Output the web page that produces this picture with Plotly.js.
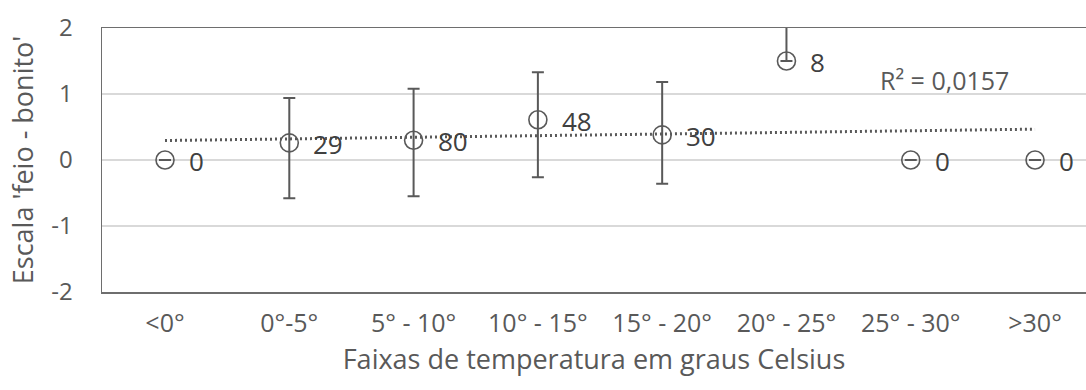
<!DOCTYPE html>
<html>
<head>
<meta charset="utf-8">
<script src="https://cdn.plot.ly/plotly-3.0.1.min.js"></script>
<style>
  html, body { margin: 0; padding: 0; background: #fff; }
  #chart { width: 1086px; height: 390px; }
</style>
</head>
<body>
<div id="chart"></div>
<script>
// ---- data ----
const categories = ['<0°', '0°-5°', '5° - 10°', '10° - 15°', '15° - 20°', '20° - 25°', '25° - 30°', '>30°'];
const means      = [0, 0.26, 0.30, 0.61, 0.38, 1.50, 0, 0];
const errPlus    = [0, 0.68, 0.78, 0.72, 0.80, 0.80, 0, 0];
const errMinus   = [0, 0.84, 0.85, 0.87, 0.74, 0.00, 0, 0];
const counts     = [0, 29, 80, 48, 30, 8, 0, 0];
const yTickVals  = [-2, -1, 0, 1, 2];
const yTickText  = ['-2', '-1', '0', '1', '2'];
const rSquaredLabel = 'R² = 0,0157';
const xTitle = 'Faixas de temperatura em graus Celsius';
const yTitle = "Escala 'feio - bonito'";

// positions along the x axis (one per category)
const xs = categories.map((_, i) => i + 1);

// linear least-squares trendline through the means
const n = xs.length;
const mx = xs.reduce((a, b) => a + b, 0) / n;
const my = means.reduce((a, b) => a + b, 0) / n;
let sxy = 0, sxx = 0;
for (let i = 0; i < n; i++) { sxy += (xs[i] - mx) * (means[i] - my); sxx += (xs[i] - mx) ** 2; }
const slope = sxy / sxx;
const intercept = my - slope * mx;
const trendX = [xs[0], xs[n - 1]];
const trendY = trendX.map(x => intercept + slope * x);

const grey = '#595959';
const dark = '#404040';
const font = 'Open Sans, sans-serif';

const traces = [
  {
    x: trendX, y: trendY, type: 'scatter', mode: 'lines',
    line: { color: grey, width: 3, dash: '2px,3px' },
    hoverinfo: 'skip', showlegend: false
  },
  {
    x: xs, y: means, type: 'scatter', mode: 'markers',
    marker: { symbol: 'circle-open', size: 18, color: grey, line: { width: 1.6, color: grey } },
    error_y: { type: 'data', symmetric: false, array: errPlus, arrayminus: errMinus,
               color: grey, thickness: 2, width: 6 },
    showlegend: false
  }
];

// data labels (counts) to the right of each marker
const labelAnnotations = xs.map((x, i) => ({
  xref: 'x', yref: 'y', x: x, y: means[i], text: String(counts[i]),
  showarrow: false, xanchor: 'left', yanchor: 'middle', xshift: 22, yshift: -1,
  font: { family: font, size: 26, color: dark }
}));

const layout = {
  width: 1086, height: 390,
  margin: { l: 102, r: 0, t: 28, b: 98 },
  paper_bgcolor: '#fff', plot_bgcolor: '#fff',
  font: { family: font, color: grey },
  showlegend: false,
  xaxis: {
    range: [0.493, 8.41],
    tickmode: 'array', tickvals: xs, ticktext: categories,
    tickfont: { family: font, size: 25, color: grey },
    ticks: '', showgrid: false, zeroline: false,
    showline: true, mirror: true, linecolor: '#6e6e6e', linewidth: 1.5,
    ticklabelstandoff: 8,
    title: { text: xTitle, font: { family: font, size: 27, color: grey }, standoff: 12 }
  },
  yaxis: {
    range: [-2, 2],
    tickmode: 'array', tickvals: yTickVals, ticktext: yTickText,
    tickfont: { family: font, size: 24, color: grey },
    ticks: '', showgrid: true, gridcolor: '#d9d9d9', gridwidth: 1.5,
    zeroline: false,
    showline: true, linecolor: '#6e6e6e', linewidth: 1.5,
    ticklabelstandoff: 23,
    title: { text: yTitle, font: { family: font, size: 27, color: grey }, standoff: 10 }
  },
  annotations: [
    { xref: 'x', yref: 'y', x: 7.27, y: 1.21, text: rSquaredLabel, showarrow: false,
      font: { family: font, size: 25, color: grey } }
  ].concat(labelAnnotations)
};

Plotly.newPlot('chart', traces, layout, { displayModeBar: false, staticPlot: true });
</script>
</body>
</html>
